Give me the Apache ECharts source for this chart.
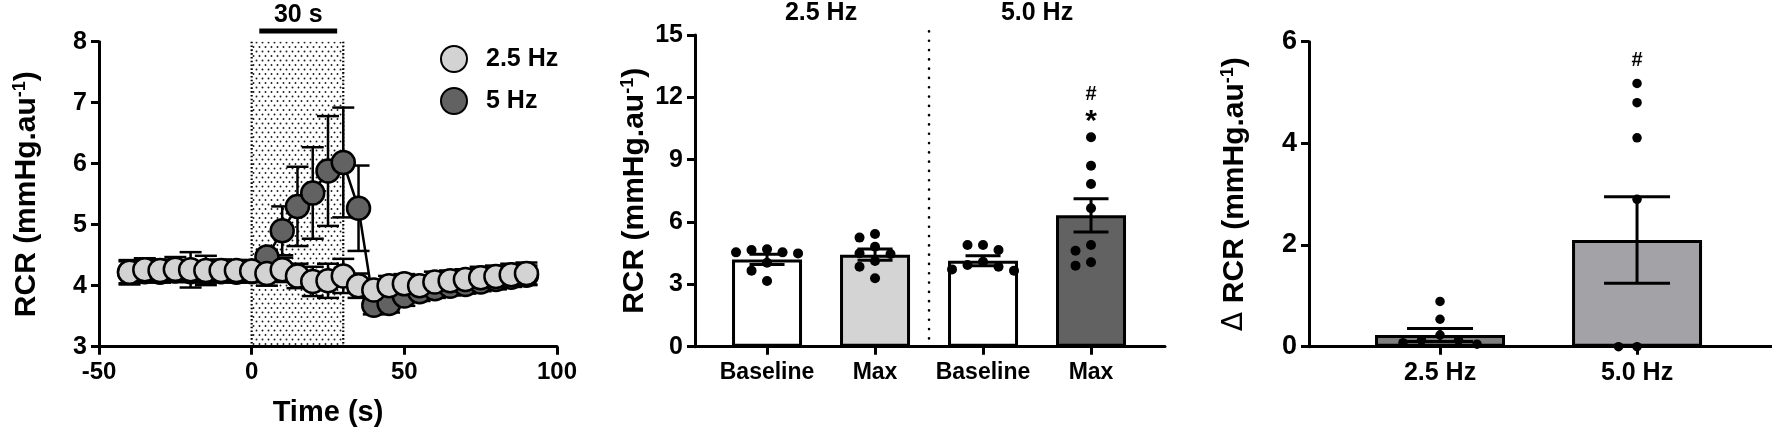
<!DOCTYPE html>
<html><head><meta charset="utf-8">
<script src="https://cdn.jsdelivr.net/npm/echarts@6/dist/echarts.min.js"></script>
<style>html,body{margin:0;padding:0;background:#fff}#c{width:1772px;height:433px}</style>
</head><body><div id="c"></div>
<script>
// ===== Panel A: RCR time course =====
const times = [-40,-35,-30,-25,-20,-15,-10,-5,0,5,10,15,20,25,30,35,40,45,50,55,60,65,70,75,80,85,90];
const rcr25 = [4.22,4.26,4.25,4.27,4.26,4.25,4.25,4.25,4.24,4.20,4.26,4.16,4.07,4.08,4.16,4.00,3.93,4.00,4.03,4.00,4.06,4.08,4.10,4.13,4.15,4.18,4.20];
const sem25 = [0.20,0.19,0.18,0.20,0.29,0.24,0.18,0.17,0.18,0.20,0.20,0.20,0.24,0.28,0.28,0.20,0.15,0.16,0.16,0.17,0.17,0.17,0.17,0.18,0.18,0.18,0.18];
const rcr5  = [4.22,4.23,4.22,4.24,4.23,4.22,4.23,4.22,4.23,4.47,4.90,5.30,5.52,5.88,6.02,5.27,3.68,3.71,3.83,3.90,3.95,3.99,4.02,4.06,4.10,4.14,4.17];
const sem5  = [0.18,0.17,0.17,0.18,0.17,0.17,0.17,0.17,0.17,0.12,0.40,0.65,0.75,0.90,0.90,0.70,0.15,0.15,0.16,0.15,0.15,0.15,0.15,0.15,0.16,0.16,0.16];
const seriesNamesA = ['2.5 Hz', '5 Hz'];
const stimWindow = [0, 30];        // stimulation period (s)
const stimBar = [2.5, 28];         // "30 s" bar span (s)
const stimLabel = '30 s';

// ===== Panel B: baseline vs max =====
const catsB = ['Baseline', 'Max', 'Baseline', 'Max'];
const groupsB = ['2.5 Hz', '5.0 Hz'];
const meanB = [4.20, 4.43, 4.14, 6.32];
const semB  = [0.25, 0.27, 0.24, 0.80];
const dotsB = [
  [4.69, 4.49, 4.54, 4.54, 4.65, 4.04, 3.66, 3.16],
  [5.25, 5.42, 4.46, 4.81, 4.50, 4.12, 3.85, 3.29],
  [4.89, 4.89, 4.65, 4.09, 3.85, 3.93, 3.72, 3.66],
  [10.08, 8.71, 7.83, 6.66, 4.89, 4.62, 4.06, 3.90]
];
const marksB = ['#', '*'];

// ===== Panel C: delta RCR =====
const catsC = ['2.5 Hz', '5.0 Hz'];
const meanC = [0.23, 2.10];
const semC  = [0.13, 0.85];
const dotsC = [
  [0.89, 0.54, 0.23, 0.13, 0.13, 0.08, 0.05],
  [5.18, 4.80, 4.11, 2.90, 0, 0]
];
const marksC = ['#'];

// ---------------- styling / layout ----------------
const FONT = '"Liberation Sans", Arial, sans-serif';
const NARROW = '"Liberation Sans Narrow", "Liberation Sans", Arial, sans-serif';
const colLight = '#d3d3d3', colDark = '#626262';
const colorsB = ['#ffffff', '#d4d4d4', '#ffffff', '#626262'];
const colorsC = ['#7f7f7f', '#a3a3a7'];
const gridA = {left: 99, top: 41.7, width: 458, height: 305};
const gridB = {left: 695, top: 35, width: 470, height: 311.7};
const gridC = {left: 1309, top: 41.7, width: 463, height: 305};
const yB = [0, 15], yC = [0, 6];

const chart = echarts.init(document.getElementById('c'), null, {renderer: 'canvas'});

// dotted pattern for stimulation window
const pat = document.createElement('canvas');
pat.width = 6; pat.height = 9;
(function(){
  const g = pat.getContext('2d');
  g.fillStyle = '#1a1a1a';
  g.beginPath(); g.arc(1.5, 2, 0.95, 0, Math.PI * 2); g.fill();
  g.beginPath(); g.arc(4.5, 6.5, 0.95, 0, Math.PI * 2); g.fill();
})();

function errRender(capHalf, lw) {
  return function (params, api) {
    const x = api.value(0), m = api.value(1), s = api.value(2);
    const t = api.coord([x, m + s]), b = api.coord([x, m - s]);
    const st = {stroke: '#000', lineWidth: lw};
    return {type: 'group', children: [
      {type: 'line', shape: {x1: t[0], y1: t[1], x2: b[0], y2: b[1]}, style: st},
      {type: 'line', shape: {x1: t[0] - capHalf, y1: t[1], x2: t[0] + capHalf, y2: t[1]}, style: st},
      {type: 'line', shape: {x1: b[0] - capHalf, y1: b[1], x2: b[0] + capHalf, y2: b[1]}, style: st}
    ]};
  };
}

// simple beeswarm: horizontal pixel offsets so dots do not overlap
function swarm(values, pxPerUnit, step, minDist) {
  const idx = values.map((v, i) => i).sort((a, b) => values[b] - values[a]);
  const placed = [], off = new Array(values.length).fill(0);
  idx.forEach(i => {
    const y = values[i] * pxPerUnit;
    for (let k = 0; k < 30; k++) {
      const c = k === 0 ? 0 : (k % 2 ? -Math.ceil(k / 2) : Math.ceil(k / 2)) * step;
      if (placed.every(p => Math.hypot(p.x - c, p.y - y) >= minDist)) {
        off[i] = c; placed.push({x: c, y}); break;
      }
    }
  });
  return off;
}

function dotData(groups, pxPerUnit, step, minDist) {
  const out = [];
  groups.forEach((vals, gi) => {
    const off = swarm(vals, pxPerUnit, step, minDist);
    vals.forEach((v, j) => out.push({value: [gi, v], symbolOffset: [off[j], 0]}));
  });
  return out;
}

const pxB = gridB.height / (yB[1] - yB[0]);
const pxC = gridC.height / (yC[1] - yC[0]);

const axisLine = {show: true, onZero: false, lineStyle: {color: '#000', width: 3}};
const axisTick = {show: true, inside: false, length: 8, lineStyle: {color: '#000', width: 3}};
const lbl = (sz, fam) => ({color: '#000', fontFamily: fam || FONT, fontWeight: 'bold', fontSize: sz});
function yName(prefix) {
  return (prefix ? '{d|Δ }' : '') + '{m|RCR (mmHg.au}{s|-1}{m|)}';
}
const yNameStyle = {
  color: '#000',
  rich: {
    m: {fontFamily: FONT, fontWeight: 'bold', fontSize: 30, color: '#000'},
    s: {fontFamily: FONT, fontWeight: 'bold', fontSize: 18, color: '#000', verticalAlign: 'top', padding: [0, 0, 14, 0]},
    d: {fontFamily: 'DejaVu Sans, sans-serif', fontWeight: 'normal', fontSize: 28, color: '#000'}
  }
};

const option = {
  animation: false,
  backgroundColor: '#fff',
  grid: [
    Object.assign({containLabel: false}, gridA),
    Object.assign({containLabel: false}, gridB),
    Object.assign({containLabel: false}, gridC)
  ],
  legend: {
    data: seriesNamesA,
    orient: 'vertical',
    left: 435, top: 40,
    icon: 'circle',
    itemWidth: 26, itemHeight: 26, itemGap: 14,
    textStyle: Object.assign(lbl(25), {padding: [0, 0, 0, 14]})
  },
  xAxis: [
    {gridIndex: 0, type: 'value', min: -50, max: 100, interval: 50,
     axisLine, axisTick, splitLine: {show: false},
     axisLabel: Object.assign(lbl(24), {margin: 14}),
     name: 'Time (s)', nameLocation: 'middle', nameGap: 52,
     nameTextStyle: lbl(29)},
    {gridIndex: 1, type: 'value', min: -0.667, max: 3.685,
     axisLine, axisTick: Object.assign({customValues: [0, 1, 2, 3]}, axisTick), splitLine: {show: false},
     axisLabel: Object.assign(lbl(23), {margin: 14, customValues: [0, 1, 2, 3], formatter: v => catsB[Math.round(v)]})},
    {gridIndex: 2, type: 'value', min: -0.665, max: 1.685,
     axisLine, axisTick: Object.assign({customValues: [0, 1]}, axisTick), splitLine: {show: false},
     axisLabel: Object.assign(lbl(25, NARROW), {margin: 14, customValues: [0, 1], formatter: v => catsC[Math.round(v)]})}
  ],
  yAxis: [
    {gridIndex: 0, type: 'value', min: 3, max: 8, interval: 1,
     axisLine, axisTick, splitLine: {show: false},
     axisLabel: Object.assign(lbl(25), {margin: 12}),
     name: yName(false), nameLocation: 'middle', nameGap: 56, nameRotate: 90, nameTextStyle: yNameStyle},
    {gridIndex: 1, type: 'value', min: yB[0], max: yB[1], interval: 3,
     axisLine, axisTick, splitLine: {show: false},
     axisLabel: Object.assign(lbl(25), {margin: 12}),
     name: yName(false), nameLocation: 'middle', nameGap: 44, nameRotate: 90, nameTextStyle: yNameStyle},
    {gridIndex: 2, type: 'value', min: yC[0], max: yC[1], interval: 2,
     axisLine, axisTick, splitLine: {show: false},
     axisLabel: Object.assign(lbl(27, NARROW), {margin: 12}),
     name: yName(true), nameLocation: 'middle', nameGap: 58, nameRotate: 90, nameTextStyle: yNameStyle}
  ],
  series: [
    // stimulation window (dotted box + "30 s" bar)
    {type: 'custom', name: 'stim', xAxisIndex: 0, yAxisIndex: 0, clip: false, z: 1, silent: true,
     data: [[stimWindow[0], stimWindow[1]]],
     renderItem: (params, api) => {
       const a = api.coord([api.value(0), 8]), b = api.coord([api.value(1), 3]);
       const bl = api.coord([stimBar[0], 8.175]), br = api.coord([stimBar[1], 8.175]);
       const tl = api.coord([(stimBar[0] + stimBar[1]) / 2, 8.44]);
       const dot = {stroke: '#000', lineWidth: 2.2, lineDash: [1.6, 2.2]};
       return {type: 'group', children: [
         {type: 'rect', shape: {x: a[0], y: a[1], width: b[0] - a[0], height: b[1] - a[1]},
          style: {fill: {image: pat, repeat: 'repeat'}}},
         {type: 'line', shape: {x1: a[0], y1: a[1], x2: a[0], y2: b[1]}, style: dot},
         {type: 'line', shape: {x1: b[0], y1: a[1], x2: b[0], y2: b[1]}, style: dot},
         {type: 'line', shape: {x1: bl[0], y1: bl[1], x2: br[0], y2: br[1]}, style: {stroke: '#000', lineWidth: 5}},
         {type: 'text', x: tl[0], y: tl[1], style: {text: stimLabel, fill: '#000', font: 'bold 25px ' + FONT, align: 'center', verticalAlign: 'middle'}}
       ]};
     }},
    {type: 'custom', name: 'err5', xAxisIndex: 0, yAxisIndex: 0, z: 2, silent: true,
     renderItem: errRender(11, 2.5), encode: {x: 0, y: 1},
     data: times.map((t, i) => [t, rcr5[i], sem5[i]])},
    {type: 'line', name: seriesNamesA[1], xAxisIndex: 0, yAxisIndex: 0, z: 2,
     data: times.map((t, i) => [t, rcr5[i]]),
     symbol: 'circle', symbolSize: 23, showAllSymbol: true,
     itemStyle: {color: colDark, borderColor: '#000', borderWidth: 2.5, opacity: 1},
     lineStyle: {color: '#000', width: 2.5}},
    {type: 'custom', name: 'err25', xAxisIndex: 0, yAxisIndex: 0, z: 2, silent: true,
     renderItem: errRender(11, 2.5), encode: {x: 0, y: 1},
     data: times.map((t, i) => [t, rcr25[i], sem25[i]])},
    {type: 'line', name: seriesNamesA[0], xAxisIndex: 0, yAxisIndex: 0, z: 2,
     data: times.map((t, i) => [t, rcr25[i]]),
     symbol: 'circle', symbolSize: 23, showAllSymbol: true,
     itemStyle: {color: colLight, borderColor: '#000', borderWidth: 2.5, opacity: 1},
     lineStyle: {color: '#000', width: 2.5}},

    // ---- Panel B ----
    {type: 'bar', name: 'barsB', xAxisIndex: 1, yAxisIndex: 1, barWidth: 70,
     data: meanB.map((v, i) => ({value: [i, v], itemStyle: {color: colorsB[i], borderColor: '#000', borderWidth: 3}}))},
    {type: 'custom', name: 'errB', xAxisIndex: 1, yAxisIndex: 1, z: 3, silent: true,
     renderItem: errRender(17.5, 3), encode: {x: 0, y: 1},
     data: meanB.map((v, i) => [i, v, semB[i]])},
    {type: 'scatter', name: 'dotsB', xAxisIndex: 1, yAxisIndex: 1, z: 4,
     symbol: 'circle', symbolSize: 10, itemStyle: {color: '#000', opacity: 1},
     data: dotData(dotsB, pxB, 15.5, 10)},
    {type: 'custom', name: 'annB', xAxisIndex: 1, yAxisIndex: 1, clip: false, z: 5, silent: true,
     data: [[0.5, 16.06], [2.5, 16.06], [3, 12.12], [3, 10.85], [1.5, 0.4]],
     renderItem: (params, api) => {
       const p = api.coord([api.value(0), api.value(1)]);
       const i = params.dataIndex;
       if (i < 2) return {type: 'text', x: p[0], y: p[1], style: {text: groupsB[i], fill: '#000', font: 'bold 25px ' + FONT, align: 'center', verticalAlign: 'middle'}};
       if (i === 2) return {type: 'text', x: p[0], y: p[1], style: {text: marksB[0], fill: '#000', font: 'bold 20px ' + FONT, align: 'center', verticalAlign: 'middle'}};
       if (i === 3) return {type: 'text', x: p[0], y: p[1], style: {text: marksB[1], fill: '#000', font: 'bold 30px ' + FONT, align: 'center', verticalAlign: 'middle'}};
       const q = api.coord([api.value(0), 15.25]);
       return {type: 'line', shape: {x1: p[0], y1: p[1], x2: q[0], y2: q[1]},
               style: {stroke: '#000', lineWidth: 2.6, lineCap: 'round', lineDash: [0.1, 9.2]}};
     }},

    // ---- Panel C ----
    {type: 'bar', name: 'barsC', xAxisIndex: 2, yAxisIndex: 2, barWidth: 130,
     data: meanC.map((v, i) => ({value: [i, v], itemStyle: {color: colorsC[i], borderColor: '#000', borderWidth: 3}}))},
    {type: 'custom', name: 'errC', xAxisIndex: 2, yAxisIndex: 2, z: 3, silent: true,
     renderItem: errRender(33, 3), encode: {x: 0, y: 1},
     data: meanC.map((v, i) => [i, v, semC[i]])},
    {type: 'scatter', name: 'dotsC', xAxisIndex: 2, yAxisIndex: 2, z: 4,
     symbol: 'circle', symbolSize: 9.5, itemStyle: {color: '#000', opacity: 1},
     data: dotData(dotsC, pxC, 18.5, 9.5)},
    {type: 'custom', name: 'annC', xAxisIndex: 2, yAxisIndex: 2, clip: false, z: 5, silent: true,
     data: [[1, 5.64]],
     renderItem: (params, api) => {
       const p = api.coord([api.value(0), api.value(1)]);
       return {type: 'text', x: p[0], y: p[1], style: {text: marksC[0], fill: '#000', font: 'bold 20px ' + NARROW, align: 'center', verticalAlign: 'middle'}};
     }}
  ]
};
chart.setOption(option);
</script>
</body></html>
